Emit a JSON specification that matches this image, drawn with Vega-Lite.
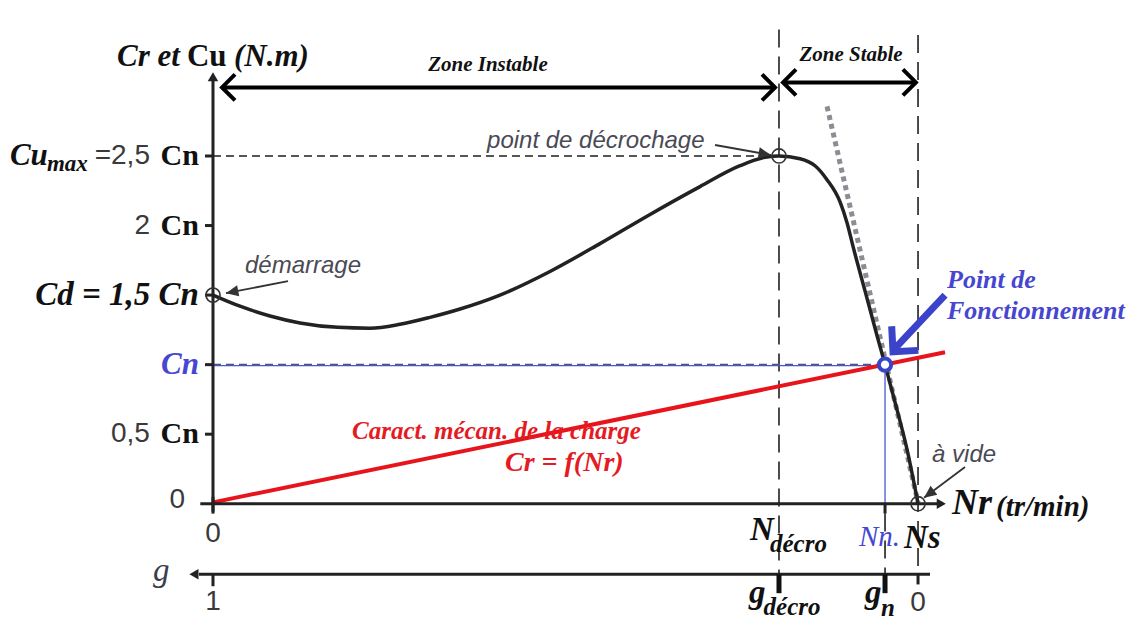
{
"$schema": "https://vega.github.io/schema/vega-lite/v6.json",
"width": 1143, "height": 622,
"autosize": {"type": "fit", "contains": "padding"},
"padding": 0,
"background": "white",
"config": {"view": {"stroke": null}},
"datasets": {
"segs": [
{"kind":"dashV","x":0.8028,"y":3.41,"x2":0.8028,"y2":-0.52},
{"kind":"dashV","x":1.0,"y":3.37,"x2":1.0,"y2":-0.50},
{"kind":"dashV","x":0.9532,"y":-0.07,"x2":0.9532,"y2":-0.50},
{"kind":"dashH","x":0,"y":2.5,"x2":0.8028,"y2":2.5},
{"kind":"dashH","x":0,"y":1.0,"x2":0.9532,"y2":1.0},
{"kind":"blue","x":0,"y":0.993,"x2":0.9532,"y2":0.993},
{"kind":"blue","x":0.9532,"y":1.0,"x2":0.9532,"y2":0},
{"kind":"tangent","x":0.8709,"y":2.857,"x2":1.0,"y2":0.01},
{"kind":"red","x":0,"y":0.01,"x2":1.0383,"y2":1.089},
{"kind":"axis","x":0,"y":-0.057,"x2":0,"y2":3.04},
{"kind":"axis","x":-0.018,"y":0,"x2":1.03,"y2":0},
{"kind":"axis","x":-0.02,"y":-0.507,"x2":1.017,"y2":-0.507},
{"kind":"tick","x":-0.0113,"y":0.5,"x2":0,"y2":0.5},
{"kind":"tick","x":-0.0113,"y":1,"x2":0,"y2":1},
{"kind":"tick","x":-0.0113,"y":1.5,"x2":0,"y2":1.5},
{"kind":"tick","x":-0.0113,"y":2,"x2":0,"y2":2},
{"kind":"tick","x":-0.0113,"y":2.5,"x2":0,"y2":2.5},
{"kind":"tick","x":0,"y":0.05,"x2":0,"y2":-0.071},
{"kind":"tick","x":0.9532,"y":0,"x2":0.9532,"y2":-0.071},
{"kind":"tick","x":0,"y":-0.507,"x2":0,"y2":-0.593},
{"kind":"tick","x":1.0,"y":-0.507,"x2":1.0,"y2":-0.58},
{"kind":"tickBold","x":0.8028,"y":-0.507,"x2":0.8028,"y2":-0.643},
{"kind":"tickBold","x":0.9532,"y":-0.507,"x2":0.9532,"y2":-0.643},
{"kind":"zone","x":0.0128,"y":2.993,"x2":0.7972,"y2":2.993},
{"kind":"zone","x":0.8085,"y":3.029,"x2":0.997,"y2":3.029},
{"kind":"blueArrow","x":1.0383,"y":1.5,"x2":0.967,"y2":1.115},
{"kind":"annot","x":0.1064,"y":1.6,"x2":0.0184,"y2":1.514},
{"kind":"annot","x":0.7121,"y":2.579,"x2":0.7915,"y2":2.507},
{"kind":"annot","x":1.0667,"y":0.264,"x2":1.0085,"y2":0.043}
],
"curve": [
{"x":0,"y":1.5},{"x":0.0383,"y":1.42},{"x":0.0809,"y":1.35},{"x":0.1234,"y":1.30},
{"x":0.1773,"y":1.268},{"x":0.2227,"y":1.262},{"x":0.2652,"y":1.29},{"x":0.3078,"y":1.34},
{"x":0.3504,"y":1.40},{"x":0.4071,"y":1.50},{"x":0.478,"y":1.67},{"x":0.5489,"y":1.87},
{"x":0.6199,"y":2.08},{"x":0.6908,"y":2.28},{"x":0.7475,"y":2.43},{"x":0.783,"y":2.49},
{"x":0.8028,"y":2.5},{"x":0.8326,"y":2.48},{"x":0.8539,"y":2.43},{"x":0.8709,"y":2.33},
{"x":0.8894,"y":2.17},{"x":0.8993,"y":2.02},{"x":0.9078,"y":1.85},{"x":0.9248,"y":1.53},
{"x":0.9418,"y":1.21},{"x":0.9532,"y":1.0},{"x":0.9674,"y":0.73},{"x":0.9844,"y":0.39},
{"x":1.0,"y":0.0}
],
"pts": [
{"kind":"open","x":0,"y":1.5},
{"kind":"open","x":0.8028,"y":2.5},
{"kind":"open","x":1.0,"y":0},
{"kind":"op","x":0.9532,"y":1.0},
{"kind":"arrowUp","x":0,"y":3.07},
{"kind":"arrowRight","x":1.033,"y":0},
{"kind":"arrowLeft","x":-0.027,"y":-0.507},
{"kind":"chevL","x":0.0128,"y":2.993},
{"kind":"chevL","x":0.8085,"y":3.029},
{"kind":"chevR","x":0.7972,"y":2.993},
{"kind":"chevR","x":0.997,"y":3.029},
{"kind":"headDem","x":0.0184,"y":1.514},
{"kind":"headDec","x":0.7915,"y":2.507},
{"kind":"headVide","x":1.0085,"y":0.043},
{"kind":"headBlue","x":0.9645,"y":1.093}
],
"labels": [
{"role":"tBI","text":"Cr et","x":-0.1362,"y":3.215},
{"role":"tBI","text":"(N.m)","x":0.0298,"y":3.215},
{"role":"tB","text":"Cu","x":-0.0369,"y":3.215},
{"role":"yCn","text":"Cn","x":-0.0199,"y":2.5},
{"role":"yCn","text":"Cn","x":-0.0199,"y":2.0},
{"role":"yCn","text":"Cn","x":-0.0199,"y":0.5},
{"role":"yNum","text":"=2,5","x":-0.0894,"y":2.5},
{"role":"yNum","text":"2","x":-0.0894,"y":2.0},
{"role":"yNum","text":"0,5","x":-0.0894,"y":0.5},
{"role":"yNum","text":"0","x":-0.0397,"y":0.03},
{"role":"yBI","text":"Cu","x":-0.288,"y":2.5},
{"role":"yBIr","text":"Cd = 1,5 Cn","x":-0.0199,"y":1.5},
{"role":"sub","text":"max","x":-0.2355,"y":2.443},
{"role":"yBlue","text":"Cn","x":-0.0199,"y":1.0},
{"role":"xNum","text":"0","x":0,"y":-0.214},
{"role":"xNum","text":"1","x":0,"y":-0.707},
{"role":"xNum","text":"0","x":1.0,"y":-0.714},
{"role":"xI","text":"N","x":0.7617,"y":-0.186},
{"role":"xI","text":"Ns","x":0.98,"y":-0.243},
{"role":"gAxis","text":"g","x":-0.0851,"y":-0.486},
{"role":"xI","text":"g","x":0.7603,"y":-0.643},
{"role":"xI","text":"g","x":0.9248,"y":-0.643},
{"role":"xSub","text":"décro","x":0.79,"y":-0.293},
{"role":"xSub","text":"décro","x":0.781,"y":-0.743},
{"role":"xSub","text":"n","x":0.9475,"y":-0.75},
{"role":"xBlue","text":"Nn.","x":0.9163,"y":-0.236},
{"role":"nr","text":"Nr","x":1.0482,"y":0.007},
{"role":"nrUnit","text":"(tr/min)","x":1.1106,"y":-0.021},
{"role":"zone","text":"Zone Instable","x":0.39,"y":3.157},
{"role":"zone","text":"Zone Stable","x":0.905,"y":3.229},
{"role":"annot","text":"démarrage","x":0.0454,"y":1.707},
{"role":"annot","text":"point de décrochage","x":0.3887,"y":2.607},
{"role":"annot","text":"à vide","x":1.0199,"y":0.35},
{"role":"red1","text":"Caract. mécan. de la charge","x":0.1972,"y":0.52},
{"role":"red2","text":"Cr = f(Nr)","x":0.4142,"y":0.29},
{"role":"blueT","text":"Point de","x":1.0411,"y":1.607},
{"role":"blueT","text":"Fonctionnement","x":1.0411,"y":1.386}
]
},
"encoding": {
"x": {"field":"x","type":"quantitative","scale":{"domain":[-0.3021,1.3191],"nice":false,"zero":false},"axis":null},
"y": {"field":"y","type":"quantitative","scale":{"domain":[-0.8214,3.6214],"nice":false,"zero":false},"axis":null}
},
"layer": [
{"data":{"name":"segs"},"transform":[{"filter":"datum.kind === 'dashV'"}],"mark":{"type":"rule","color":"#111","strokeWidth":1.5,"strokeDash":[18,9]},"encoding":{"x2":{"field":"x2"},"y2":{"field":"y2"}}},
{"data":{"name":"segs"},"transform":[{"filter":"datum.kind === 'dashH'"}],"mark":{"type":"rule","color":"#555","strokeWidth":2,"strokeDash":[8,5]},"encoding":{"x2":{"field":"x2"},"y2":{"field":"y2"}}},
{"data":{"name":"segs"},"transform":[{"filter":"datum.kind === 'blue'"}],"mark":{"type":"rule","color":"#4a55d6","strokeWidth":1.3},"encoding":{"x2":{"field":"x2"},"y2":{"field":"y2"}}},
{"data":{"name":"segs"},"transform":[{"filter":"datum.kind === 'tangent'"}],"mark":{"type":"rule","color":"#8a8d92","strokeWidth":5,"strokeDash":[5,4]},"encoding":{"x2":{"field":"x2"},"y2":{"field":"y2"}}},
{"data":{"name":"curve"},"mark":{"type":"line","color":"#222","strokeWidth":3.5,"interpolate":"monotone"},"encoding":{}},
{"data":{"name":"segs"},"transform":[{"filter":"datum.kind === 'red'"}],"mark":{"type":"rule","color":"#e8141c","strokeWidth":4},"encoding":{"x2":{"field":"x2"},"y2":{"field":"y2"}}},
{"data":{"name":"segs"},"transform":[{"filter":"datum.kind === 'axis' || datum.kind === 'tick'"}],"mark":{"type":"rule","color":"#222","strokeWidth":3},"encoding":{"x2":{"field":"x2"},"y2":{"field":"y2"}}},
{"data":{"name":"segs"},"transform":[{"filter":"datum.kind === 'tickBold'"}],"mark":{"type":"rule","color":"#111","strokeWidth":5},"encoding":{"x2":{"field":"x2"},"y2":{"field":"y2"}}},
{"data":{"name":"segs"},"transform":[{"filter":"datum.kind === 'zone'"}],"mark":{"type":"rule","color":"#000","strokeWidth":4},"encoding":{"x2":{"field":"x2"},"y2":{"field":"y2"}}},
{"data":{"name":"segs"},"transform":[{"filter":"datum.kind === 'blueArrow'"}],"mark":{"type":"rule","color":"#3b44c8","strokeWidth":7},"encoding":{"x2":{"field":"x2"},"y2":{"field":"y2"}}},
{"data":{"name":"segs"},"transform":[{"filter":"datum.kind === 'annot'"}],"mark":{"type":"rule","color":"#333","strokeWidth":1.8},"encoding":{"x2":{"field":"x2"},"y2":{"field":"y2"}}},
{"data":{"name":"pts"},"transform":[{"filter":"datum.kind === 'open'"}],"mark":{"type":"point","shape":"circle","size":200,"filled":false,"stroke":"#333","strokeWidth":1.6,"opacity":1},"encoding":{}},
{"data":{"name":"pts"},"transform":[{"filter":"datum.kind === 'op'"}],"mark":{"type":"point","shape":"circle","size":150,"filled":true,"fill":"white","stroke":"#3b44c8","strokeWidth":4,"opacity":1},"encoding":{}},
{"data":{"name":"pts"},"transform":[{"filter":"datum.kind === 'arrowUp'"}],"mark":{"type":"point","shape":"triangle-up","filled":true,"color":"#222","size":110,"opacity":1},"encoding":{}},
{"data":{"name":"pts"},"transform":[{"filter":"datum.kind === 'arrowRight'"}],"mark":{"type":"point","shape":"triangle-right","filled":true,"color":"#222","size":110,"opacity":1},"encoding":{}},
{"data":{"name":"pts"},"transform":[{"filter":"datum.kind === 'arrowLeft'"}],"mark":{"type":"point","shape":"triangle-left","filled":true,"color":"#222","size":110,"opacity":1},"encoding":{}},
{"data":{"name":"pts"},"transform":[{"filter":"datum.kind === 'chevL'"}],"mark":{"type":"point","shape":"M1,-1L0,0L1,1","filled":false,"stroke":"#000","strokeWidth":4,"size":676,"opacity":1},"encoding":{}},
{"data":{"name":"pts"},"transform":[{"filter":"datum.kind === 'chevR'"}],"mark":{"type":"point","shape":"M-1,-1L0,0L-1,1","filled":false,"stroke":"#000","strokeWidth":4,"size":676,"opacity":1},"encoding":{}},
{"data":{"name":"pts"},"transform":[{"filter":"datum.kind === 'headDem'"}],"mark":{"type":"point","shape":"M0,0L-1,-0.45L-1,0.45Z","filled":true,"color":"#333","size":620,"angle":169,"opacity":1},"encoding":{}},
{"data":{"name":"pts"},"transform":[{"filter":"datum.kind === 'headDec'"}],"mark":{"type":"point","shape":"M0,0L-1,-0.45L-1,0.45Z","filled":true,"color":"#333","size":620,"angle":10,"opacity":1},"encoding":{}},
{"data":{"name":"pts"},"transform":[{"filter":"datum.kind === 'headVide'"}],"mark":{"type":"point","shape":"M0,0L-1,-0.45L-1,0.45Z","filled":true,"color":"#333","size":620,"angle":143,"opacity":1},"encoding":{}},
{"data":{"name":"pts"},"transform":[{"filter":"datum.kind === 'headBlue'"}],"mark":{"type":"point","shape":"M-1,-1L0,0L-1,1","filled":false,"stroke":"#3b44c8","strokeWidth":7,"size":1296,"angle":132,"opacity":1},"encoding":{}},
{"data":{"name":"labels"},"transform":[{"filter":"datum.role === 'tBI'"}],"mark":{"type":"text","font":"Liberation Serif","fontWeight":"bold","fontStyle":"italic","fontSize":31,"align":"left","baseline":"middle","color":"#111"},"encoding":{"text":{"field":"text"}}},
{"data":{"name":"labels"},"transform":[{"filter":"datum.role === 'tB'"}],"mark":{"type":"text","font":"Liberation Serif","fontWeight":"bold","fontSize":31,"align":"left","baseline":"middle","color":"#111"},"encoding":{"text":{"field":"text"}}},
{"data":{"name":"labels"},"transform":[{"filter":"datum.role === 'yCn'"}],"mark":{"type":"text","font":"Liberation Serif","fontWeight":"bold","fontSize":30,"align":"right","baseline":"middle","color":"#111"},"encoding":{"text":{"field":"text"}}},
{"data":{"name":"labels"},"transform":[{"filter":"datum.role === 'yNum'"}],"mark":{"type":"text","font":"Liberation Sans","fontSize":28,"align":"right","baseline":"middle","color":"#3a3a3a"},"encoding":{"text":{"field":"text"}}},
{"data":{"name":"labels"},"transform":[{"filter":"datum.role === 'yBI'"}],"mark":{"type":"text","font":"Liberation Serif","fontWeight":"bold","fontStyle":"italic","fontSize":31,"align":"left","baseline":"middle","color":"#111"},"encoding":{"text":{"field":"text"}}},
{"data":{"name":"labels"},"transform":[{"filter":"datum.role === 'yBIr'"}],"mark":{"type":"text","font":"Liberation Serif","fontWeight":"bold","fontStyle":"italic","fontSize":33,"align":"right","baseline":"middle","color":"#111"},"encoding":{"text":{"field":"text"}}},
{"data":{"name":"labels"},"transform":[{"filter":"datum.role === 'sub'"}],"mark":{"type":"text","font":"Liberation Serif","fontWeight":"bold","fontStyle":"italic","fontSize":23,"align":"left","baseline":"middle","color":"#111"},"encoding":{"text":{"field":"text"}}},
{"data":{"name":"labels"},"transform":[{"filter":"datum.role === 'yBlue'"}],"mark":{"type":"text","font":"Liberation Serif","fontWeight":"bold","fontStyle":"italic","fontSize":31,"align":"right","baseline":"middle","color":"#4646d0"},"encoding":{"text":{"field":"text"}}},
{"data":{"name":"labels"},"transform":[{"filter":"datum.role === 'xNum'"}],"mark":{"type":"text","font":"Liberation Sans","fontSize":28,"align":"center","baseline":"middle","color":"#3a3a3a"},"encoding":{"text":{"field":"text"}}},
{"data":{"name":"labels"},"transform":[{"filter":"datum.role === 'xI'"}],"mark":{"type":"text","font":"Liberation Serif","fontStyle":"italic","fontWeight":"bold","fontSize":33,"align":"left","baseline":"middle","color":"#111"},"encoding":{"text":{"field":"text"}}},
{"data":{"name":"labels"},"transform":[{"filter":"datum.role === 'gAxis'"}],"mark":{"type":"text","font":"Liberation Serif","fontStyle":"italic","fontSize":33,"align":"left","baseline":"middle","color":"#3a3d4a"},"encoding":{"text":{"field":"text"}}},
{"data":{"name":"labels"},"transform":[{"filter":"datum.role === 'xSub'"}],"mark":{"type":"text","font":"Liberation Serif","fontStyle":"italic","fontWeight":"bold","fontSize":25,"align":"left","baseline":"middle","color":"#111"},"encoding":{"text":{"field":"text"}}},
{"data":{"name":"labels"},"transform":[{"filter":"datum.role === 'xBlue'"}],"mark":{"type":"text","font":"Liberation Serif","fontStyle":"italic","fontSize":29,"align":"left","baseline":"middle","color":"#4646d0"},"encoding":{"text":{"field":"text"}}},
{"data":{"name":"labels"},"transform":[{"filter":"datum.role === 'nr'"}],"mark":{"type":"text","font":"Liberation Serif","fontWeight":"bold","fontStyle":"italic","fontSize":36,"align":"left","baseline":"middle","color":"#111"},"encoding":{"text":{"field":"text"}}},
{"data":{"name":"labels"},"transform":[{"filter":"datum.role === 'nrUnit'"}],"mark":{"type":"text","font":"Liberation Serif","fontWeight":"bold","fontStyle":"italic","fontSize":29,"align":"left","baseline":"middle","color":"#111"},"encoding":{"text":{"field":"text"}}},
{"data":{"name":"labels"},"transform":[{"filter":"datum.role === 'zone'"}],"mark":{"type":"text","font":"Liberation Serif","fontWeight":"bold","fontStyle":"italic","fontSize":21,"align":"center","baseline":"middle","color":"#111"},"encoding":{"text":{"field":"text"}}},
{"data":{"name":"labels"},"transform":[{"filter":"datum.role === 'annot'"}],"mark":{"type":"text","font":"Liberation Sans","fontStyle":"italic","fontSize":24,"align":"left","baseline":"middle","color":"#4a4a55"},"encoding":{"text":{"field":"text"}}},
{"data":{"name":"labels"},"transform":[{"filter":"datum.role === 'red1'"}],"mark":{"type":"text","font":"Liberation Serif","fontWeight":"bold","fontStyle":"italic","fontSize":25,"align":"left","baseline":"middle","color":"#e51b23"},"encoding":{"text":{"field":"text"}}},
{"data":{"name":"labels"},"transform":[{"filter":"datum.role === 'red2'"}],"mark":{"type":"text","font":"Liberation Serif","fontWeight":"bold","fontStyle":"italic","fontSize":28,"align":"left","baseline":"middle","color":"#e51b23"},"encoding":{"text":{"field":"text"}}},
{"data":{"name":"labels"},"transform":[{"filter":"datum.role === 'blueT'"}],"mark":{"type":"text","font":"Liberation Serif","fontWeight":"bold","fontStyle":"italic","fontSize":26,"align":"left","baseline":"middle","color":"#4646d0"},"encoding":{"text":{"field":"text"}}}
]
}
